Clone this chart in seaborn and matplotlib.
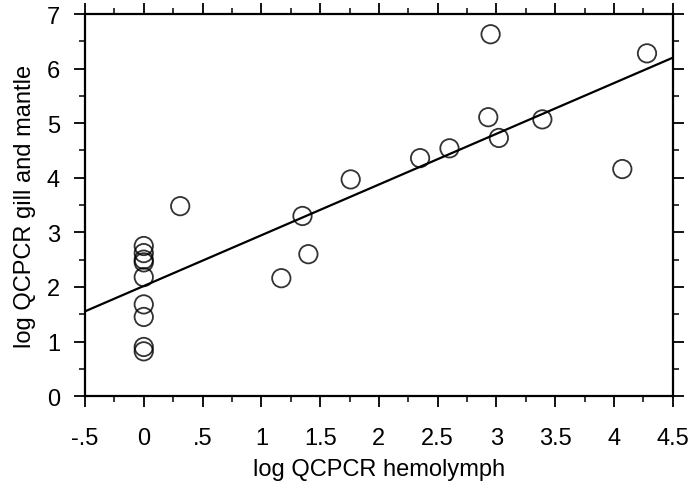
import matplotlib
matplotlib.use("Agg")
import matplotlib.pyplot as plt
from matplotlib.ticker import MultipleLocator
import seaborn as sns
import pandas as pd

# Data
hemolymph = [0, 0, 0, 0, 0, 0, 0, 0, 0,
             0.31, 1.17, 1.35, 1.40, 1.76, 2.35, 2.60, 2.93, 2.95, 3.02, 3.39, 4.07, 4.28]
gill_mantle = [2.75, 2.62, 2.50, 2.45, 2.18, 1.68, 1.45, 0.90, 0.82,
               3.48, 2.16, 3.30, 2.60, 3.97, 4.36, 4.54, 5.11, 6.63, 4.73, 5.07, 4.16, 6.28]
x_ticks = [-0.5, 0, 0.5, 1, 1.5, 2, 2.5, 3, 3.5, 4, 4.5]
x_tick_labels = ["-.5", "0", ".5", "1", "1.5", "2", "2.5", "3", "3.5", "4", "4.5"]
y_ticks = [0, 1, 2, 3, 4, 5, 6, 7]

df = pd.DataFrame({"hemolymph": hemolymph, "gill": gill_mantle})

sns.set_theme(style="ticks")
plt.rcParams["font.family"] = ["Liberation Sans", "DejaVu Sans"]

fig = plt.figure(figsize=(6.88, 5.02), dpi=100)
ax = fig.add_axes([0.1235, 0.209, 0.8545, 0.761])
ax.set_xlim(-0.5, 4.5)
ax.set_ylim(0, 7)

sns.regplot(data=df, x="hemolymph", y="gill", ax=ax, ci=None, truncate=False,
            scatter_kws=dict(s=175, facecolors="none", edgecolors="black", linewidths=1.3),
            line_kws=dict(color="black", linewidth=1.6))

ax.set_xlim(-0.5, 4.5)
ax.set_ylim(0, 7)
ax.set_xticks(x_ticks)
ax.set_xticklabels(x_tick_labels)
ax.set_yticks(y_ticks)
ax.xaxis.set_minor_locator(MultipleLocator(0.25))
ax.yaxis.set_minor_locator(MultipleLocator(0.5))

for s in ax.spines.values():
    s.set_visible(True)
    s.set_color("black")
    s.set_linewidth(1.6)

ax.tick_params(which="both", direction="out", color="black", top=True, right=True,
               labeltop=False, labelright=False)
ax.tick_params(which="major", length=8, width=1.3, labelsize=17, labelcolor="black")
ax.tick_params(which="minor", length=4, width=1.1)
ax.tick_params(axis="x", which="major", pad=14)
ax.tick_params(axis="y", which="major", pad=10)

ax.set_xlabel("log QCPCR hemolymph", fontsize=17, color="black", labelpad=7)
ax.set_ylabel("log QCPCR gill and mantle", fontsize=17, color="black", labelpad=8)

fig.savefig("out.png", dpi=100, facecolor="white")
